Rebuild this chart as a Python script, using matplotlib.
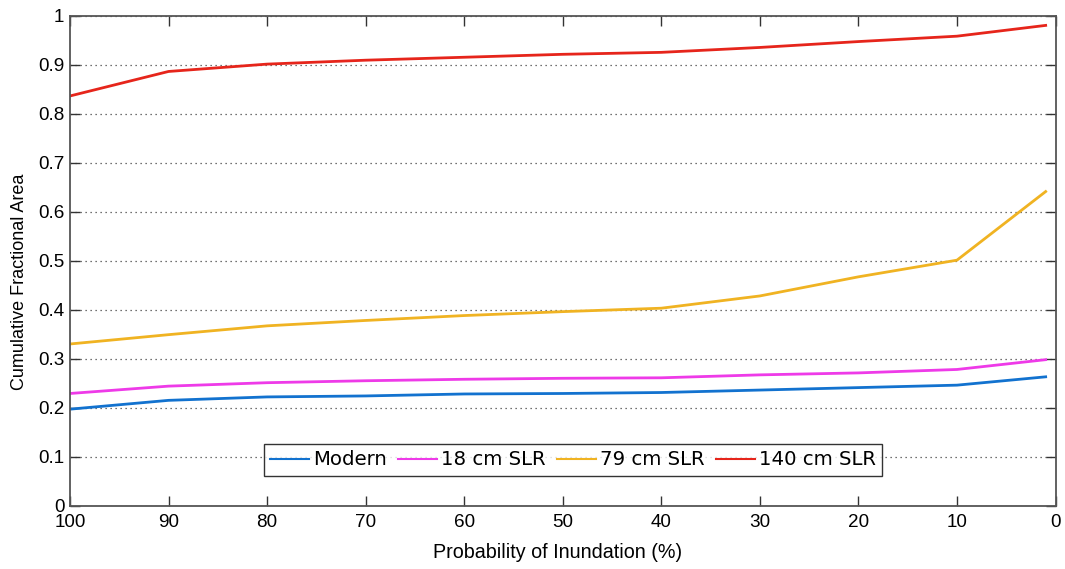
import matplotlib
matplotlib.use("Agg")
import matplotlib.pyplot as plt

# Probability of inundation (%) at which the cumulative area is evaluated
probability = [100, 90, 80, 70, 60, 50, 40, 30, 20, 10, 1]

# Cumulative fractional area for each scenario
modern = [0.197, 0.215, 0.222, 0.224, 0.228, 0.229, 0.231, 0.236, 0.241, 0.246, 0.263]
slr_18 = [0.229, 0.244, 0.251, 0.255, 0.258, 0.260, 0.261, 0.267, 0.271, 0.278, 0.298]
slr_79 = [0.330, 0.349, 0.367, 0.378, 0.388, 0.396, 0.403, 0.428, 0.467, 0.501, 0.641]
slr_140 = [0.836, 0.886, 0.901, 0.909, 0.915, 0.921, 0.925, 0.935, 0.947, 0.958, 0.980]

series_labels = ["Modern", "18 cm SLR", "79 cm SLR", "140 cm SLR"]
series_colors = ["#1272cf", "#ee3ae8", "#f0b322", "#e6251b"]

x_ticks = [100, 90, 80, 70, 60, 50, 40, 30, 20, 10, 0]
y_ticks = [0, 0.1, 0.2, 0.3, 0.4, 0.5, 0.6, 0.7, 0.8, 0.9, 1]
y_tick_labels = ["0", "0.1", "0.2", "0.3", "0.4", "0.5", "0.6", "0.7", "0.8", "0.9", "1"]

label_font = ["Liberation Sans Narrow", "Liberation Sans", "DejaVu Sans"]
tick_font = ["Liberation Sans", "DejaVu Sans"]

fig = plt.figure(figsize=(10.65, 5.69), dpi=100)
ax = fig.add_axes([0.0657, 0.1112, 0.9254, 0.8614])

for values, name, color in zip([modern, slr_18, slr_79, slr_140], series_labels, series_colors):
    ax.plot(probability, values, color=color, lw=2.0, label=name, solid_joinstyle="miter")

ax.set_xlim(100, 0)
ax.set_ylim(0, 1)
ax.set_xticks(x_ticks)
ax.set_xticklabels([str(t) for t in x_ticks], family=tick_font, fontsize=13.6)
ax.set_yticks(y_ticks)
ax.set_yticklabels(y_tick_labels, family=tick_font, fontsize=13.6)

ax.tick_params(axis="both", direction="in", length=7, width=1.0, color="#333333",
               top=True, right=True, pad=4, labelcolor="black")
ax.tick_params(axis="x", pad=6)

for spine in ax.spines.values():
    spine.set_color("#555555")
    spine.set_linewidth(1.3)

ax.yaxis.grid(True, linestyle=(0, (1, 3)), color="#444444", linewidth=0.9)
ax.xaxis.grid(False)
ax.set_axisbelow(True)

ax.set_xlabel("Probability of Inundation (%)", family=label_font, fontsize=14.2)
ax.xaxis.set_label_coords(0.495, -0.076)
ax.set_ylabel("Cumulative Fractional Area", family=label_font, fontsize=13)
ax.yaxis.set_label_coords(-0.043, 0.4565)

leg = ax.legend(loc="center", bbox_to_anchor=(0.5104, 0.0933), ncol=4, frameon=True,
                fancybox=False, edgecolor="black", prop={"family": "DejaVu Sans", "size": 14.2},
                handlelength=2.0, handletextpad=0.2, columnspacing=0.55, borderpad=0.32,
                borderaxespad=0)
leg.get_frame().set_linewidth(1.0)
for line in leg.get_lines():
    line.set_linewidth(1.5)

fig.savefig("out.png", dpi=100)
